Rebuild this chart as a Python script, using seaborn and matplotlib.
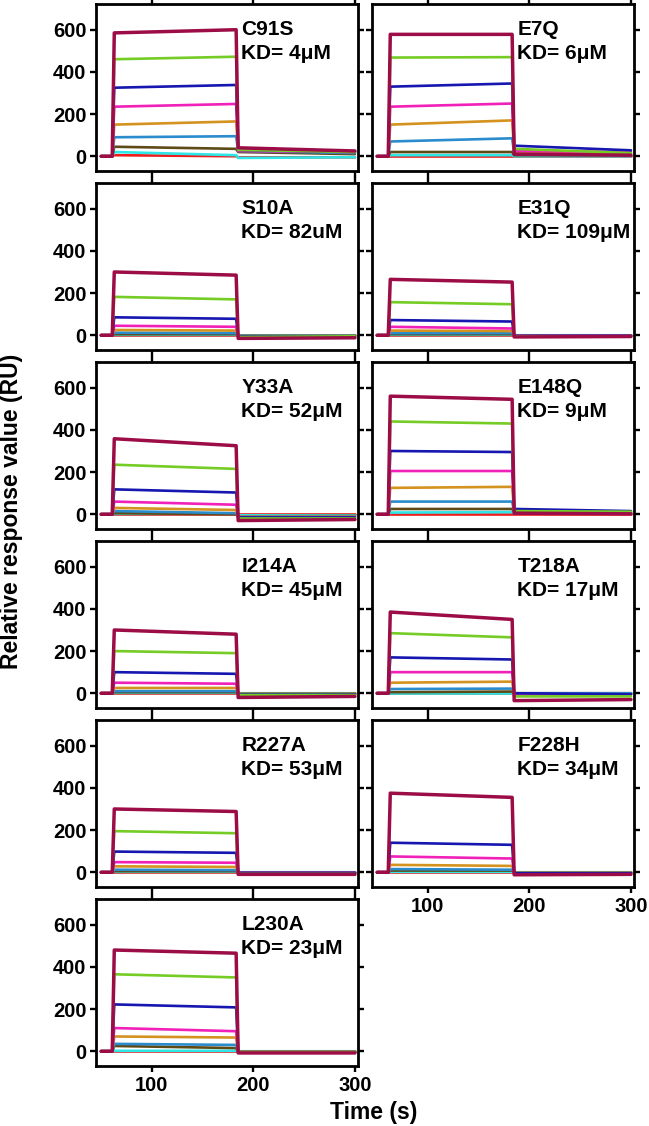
import numpy as np
import pandas as pd
import seaborn as sns
import matplotlib.pyplot as plt

mutants = ['C91S', 'E7Q', 'S10A', 'E31Q', 'Y33A', 'E148Q',
           'I214A', 'T218A', 'R227A', 'F228H', 'L230A']
kd_labels = ['4μM', '6μM', '82uM', '109μM', '52μM', '9μM',
             '45μM', '17μM', '53μM', '34μM', '23μM']

# curves from lowest to highest analyte concentration
curve_names = ['red', 'cyan', 'brown', 'teal', 'orange', 'magenta', 'blue', 'green', 'maroon']
curve_colors = ['#ee1c1c', '#2ee6e6', '#5e4a16', '#2a8ccc', '#d4921e',
                '#f020b8', '#1616b0', '#74cc24', '#9c0c46']

# key times of the sensorgram (s): baseline, injection, end of injection, wash end
time_pts = [50, 61, 63, 183, 185, 300]

nan = np.nan
assoc_start = {
    'C91S':  [5, 20, 45, 90, 150, 235, 325, 460, 585],
    'E7Q':   [0, 5, 20, 70, 150, 235, 330, 468, 578],
    'S10A':  [0, 2, 5, 12, 25, 45, 85, 182, 300],
    'E31Q':  [0, 2, 5, 10, 22, 40, 72, 157, 265],
    'Y33A':  [0, 2, 5, 15, 30, 60, 118, 235, 358],
    'E148Q': [0, 8, 25, 60, 125, 205, 300, 440, 560],
    'I214A': [0, 2, 5, 10, 25, 50, 100, 200, 300],
    'T218A': [0, 0, 5, 20, 50, 100, 170, 285, 385],
    'R227A': [0, 2, 5, 12, 28, 48, 98, 195, 300],
    'F228H': [0, 2, 8, 15, 35, 75, 140, nan, 375],
    'L230A': [0, 2, 25, 35, 70, 110, 222, 365, 480],
}
assoc_end = {
    'C91S':  [0, 5, 35, 95, 165, 248, 338, 472, 600],
    'E7Q':   [0, 5, 20, 85, 170, 250, 345, 470, 578],
    'S10A':  [0, 2, 5, 10, 22, 40, 78, 170, 285],
    'E31Q':  [0, 2, 5, 10, 20, 32, 65, 147, 252],
    'Y33A':  [0, 2, 0, 5, 20, 45, 103, 215, 325],
    'E148Q': [0, 10, 25, 60, 130, 205, 295, 430, 545],
    'I214A': [0, 2, 5, 10, 25, 45, 92, 190, 280],
    'T218A': [0, 0, 8, 22, 55, 100, 160, 265, 350],
    'R227A': [0, 2, 5, 10, 25, 45, 92, 185, 288],
    'F228H': [0, 2, 8, 12, 30, 65, 130, nan, 355],
    'L230A': [0, 2, 15, 30, 65, 95, 208, 350, 465],
}
dissoc_start = {
    'C91S':  [-5, -8, 20, 25, 30, 25, 30, 30, 40],
    'E7Q':   [0, 0, 5, 15, 20, 25, 50, 35, 10],
    'S10A':  [0, -2, -3, -3, -4, -5, -5, -8, -15],
    'E31Q':  [0, 0, -2, -2, -3, -3, -3, -5, -8],
    'Y33A':  [0, -5, -10, -10, -12, -15, -15, -20, -30],
    'E148Q': [0, 5, 10, 12, 12, 15, 25, 15, 5],
    'I214A': [0, 0, -2, -3, -3, -5, -5, -8, -20],
    'T218A': [0, 0, 0, 0, -5, -5, 0, -15, -35],
    'R227A': [0, 0, -2, -2, -3, -3, -3, -8, -10],
    'F228H': [0, 0, -2, -3, -3, -5, -5, nan, -12],
    'L230A': [0, 0, -2, -3, -3, -5, -5, -5, -8],
}
dissoc_end = {
    'C91S':  [-5, -5, 10, 15, 20, 20, 20, 20, 25],
    'E7Q':   [0, 0, 5, 10, 15, 20, 28, 15, 5],
    'S10A':  [0, -2, -3, -3, -4, -5, -5, -5, -12],
    'E31Q':  [0, 0, -2, -2, -3, -3, -3, -5, -6],
    'Y33A':  [0, -5, -8, -10, -12, -15, -15, -20, -25],
    'E148Q': [0, 5, 8, 10, 10, 10, 15, 12, 2],
    'I214A': [0, 0, -2, -3, -3, -5, -5, -8, -15],
    'T218A': [0, 0, 0, 0, -5, -5, -5, -15, -30],
    'R227A': [0, 0, -2, -2, -3, -3, -3, -8, -10],
    'F228H': [0, 0, -2, -3, -3, -5, -5, nan, -10],
    'L230A': [0, 0, -2, -3, -3, -5, -5, -5, -8],
}

rows = []
for m in mutants:
    for i, c in enumerate(curve_names):
        a0, a1 = assoc_start[m][i], assoc_end[m][i]
        d0, d1 = dissoc_start[m][i], dissoc_end[m][i]
        if np.isnan(a0):
            continue
        vals = [0, 0, a0, a1, d0, d1]
        for t, v in zip(time_pts, vals):
            rows.append((m, c, t, v))
df = pd.DataFrame(rows, columns=['mutant', 'curve', 'time', 'value'])

sns.set_style('ticks')
plt.rcParams['font.family'] = ['Liberation Sans', 'DejaVu Sans']
plt.rcParams['font.weight'] = 'bold'
for key in ['text.color', 'xtick.color', 'ytick.color', 'axes.labelcolor', 'axes.edgecolor']:
    plt.rcParams[key] = 'black'

W, H = 649, 1126
fig = plt.figure(figsize=(W / 100, H / 100), dpi=100, facecolor='white')

palette = dict(zip(curve_names, curve_colors))
widths = {c: 1.9 for c in curve_names}
widths['maroon'] = 2.5

row_tops = [4, 183, 362, 541, 720, 899]
col_left = [96, 372]
pw, ph = 262, 167

for k, m in enumerate(mutants):
    r, c = divmod(k, 2)
    ax = fig.add_axes([col_left[c] / W, 1 - (row_tops[r] + ph) / H, pw / W, ph / H])
    sub = df[df['mutant'] == m]
    sns.lineplot(data=sub, x='time', y='value', hue='curve', hue_order=curve_names,
                 palette=palette, size='curve', sizes=widths, size_order=curve_names,
                 estimator=None, sort=False, legend=False, ax=ax)
    ax.set_xlim(45, 303)
    ax.set_ylim(-70, 722)
    ax.set_xticks([100, 200, 300])
    ax.set_yticks([0, 200, 400, 600])
    ax.set_xlabel('')
    ax.set_ylabel('')
    for s in ax.spines.values():
        s.set_linewidth(2.0)
    ax.tick_params(direction='out', top=True, right=True, length=4, width=1.7,
                   labelsize=14.5, pad=3)
    if c == 1:
        ax.set_yticklabels([])
    if m not in ('F228H', 'L230A'):
        ax.set_xticklabels([])
    for lab in ax.get_xticklabels() + ax.get_yticklabels():
        lab.set_fontweight('bold')
    ax.text(0.555, 0.815, m, transform=ax.transAxes, ha='left', va='baseline',
            fontsize=15, fontweight='bold')
    ax.text(0.555, 0.672, f'KD= {kd_labels[k]}', transform=ax.transAxes,
            ha='left', va='baseline', fontsize=15, fontweight='bold')

fig.text(374 / W, 1 - 1112 / H, 'Time (s)', ha='center', va='center',
         fontsize=16.5, fontweight='bold')
fig.text(12 / W, 1 - 511 / H, 'Relative response value (RU)', ha='center', va='center',
         rotation=90, fontsize=16.5, fontweight='bold')

fig.savefig('out.png', dpi=100, facecolor='white')
